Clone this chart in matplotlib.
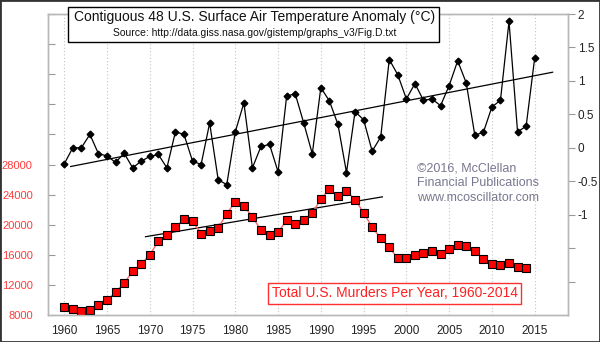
import numpy as np
import matplotlib.pyplot as plt
from matplotlib.patches import Rectangle

plt.rcParams['font.family'] = ['Liberation Sans', 'DejaVu Sans']

# contiguous 48 states surface air temperature anomaly, deg C
temp_years = np.arange(1960, 2016)
temp_anom = [-0.24, 0.00, 0.00, 0.20, -0.09, -0.12, -0.22, -0.08, -0.30, -0.20,
             -0.13, -0.10, -0.30, 0.24, 0.20, -0.20, -0.25, 0.37, -0.48, -0.55,
             0.24, 0.67, -0.30, 0.02, 0.05, -0.36, 0.77, 0.81, 0.37, -0.09,
             0.90, 0.70, 0.35, -0.37, 0.54, 0.42, -0.05, 0.16, 1.32, 1.09,
             0.73, 0.96, 0.71, 0.73, 0.63, 0.93, 1.30, 0.97, 0.19, 0.23,
             0.61, 0.71, 1.89, 0.24, 0.32, 1.34]

# total U.S. murders per year
murder_years = np.arange(1960, 2015)
murders = [9110, 8740, 8530, 8640, 9360, 9960, 11040, 12240, 13800, 14760,
           16000, 17780, 18670, 19640, 20710, 20510, 18780, 19120, 19560, 21460,
           23040, 22520, 21010, 19308, 18692, 18976, 20613, 20096, 20675, 21500,
           23438, 24703, 23760, 24526, 23326, 21606, 19645, 18208, 16974, 15522,
           15586, 16037, 16229, 16528, 16148, 16740, 17309, 17128, 16465, 15399,
           14722, 14661, 14856, 14319, 14249]

# trend lines (end points)
temp_trend_years = [1960.75, 2017.1]
temp_trend_vals = [-0.28, 1.13]
murder_trend_years = [1969.5, 1997.2]
murder_trend_vals = [18400, 23700]

year_ticks = np.arange(1960, 2016, 5)
murder_ticks = np.arange(8000, 48001, 4000)
murder_labels = [str(v) if v <= 28000 else '' for v in murder_ticks]
temp_ticks = np.arange(-2.0, 2.01, 0.5)
temp_labels = [f'{v:g}' if v >= -1 else '' for v in temp_ticks]

fig = plt.figure(figsize=(6, 3.42), dpi=100)
ax = fig.add_axes([0.08, 0.079, 0.8667, 0.880])
ax2 = ax.twinx()

frame = '#b8b8b8'
for a in (ax, ax2):
    for s in a.spines.values():
        s.set_color(frame)
        s.set_linewidth(1.0)

ax.set_xlim(1958.1, 2018.9)
ax.set_ylim(8000, 48000)
ax2.set_ylim(-2.5, 2.0)

ax.set_xticks(year_ticks)
ax.grid(axis='x', color='#c4c4c4', linestyle=(0, (1, 2)), linewidth=0.8)
ax.tick_params(axis='x', length=0, pad=7, labelsize=8.5, labelcolor='#222222')

ax.set_yticks(murder_ticks)
ax.set_yticklabels(murder_labels)
ax.tick_params(axis='y', direction='in', length=5, pad=11, color='#999999',
               labelsize=8, labelcolor='#ff3c3c')
for lbl in ax.get_yticklabels():
    lbl.set_family(['Liberation Sans Narrow', 'Liberation Sans'])

ax2.set_yticks(temp_ticks)
ax2.set_yticklabels(temp_labels)
ax2.tick_params(axis='y', direction='out', length=5, pad=2, color='#999999',
                labelsize=8.5, labelcolor='#222222')

# murders
ax.plot(murder_years, murders, color='#ff6464', lw=1, zorder=3)
ax.plot(murder_years, murders, ls='none', marker='s', ms=5.2, mfc='#ff0000',
        mec='black', mew=0.8, zorder=4)
ax.plot(murder_trend_years, murder_trend_vals, color='black', lw=0.9, zorder=2)

# temperature
ax2.plot(temp_years, temp_anom, color='black', lw=0.9, marker='D', ms=3.4)
ax2.plot(temp_trend_years, temp_trend_vals, color='black', lw=0.9)

# title box
fig.add_artist(Rectangle((68 / 600, 1 - 42 / 342), 371 / 600, 35 / 342,
                         transform=fig.transFigure, facecolor='white',
                         edgecolor='black', lw=1))
fig.text(0.424, 0.951, 'Contiguous 48 U.S. Surface Air Temperature Anomaly (°C)',
         ha='center', va='center', fontsize=10, color='#111111')
fig.text(0.425, 0.9035, 'Source: http://data.giss.nasa.gov/gistemp/graphs_v3/Fig.D.txt',
         ha='center', va='center', fontsize=7.5, color='#111111')

fig.text(0.658, 0.142, 'Total U.S. Murders Per Year, 1960-2014',
         ha='center', va='center', fontsize=10, color='#ff2020',
         bbox=dict(boxstyle='square,pad=0.25', fc='white', ec='#ff3030', lw=1))

fig.text(0.695, 0.525, '©2016, McClellan\nFinancial Publications\nwww.mcoscillator.com',
         ha='left', va='top', fontsize=9, color='#787890', linespacing=1.3)

fig.add_artist(Rectangle((0, 0), 1, 1, transform=fig.transFigure, fill=False,
                         edgecolor='#333333', lw=2))

fig.savefig('out.png', dpi=100)
